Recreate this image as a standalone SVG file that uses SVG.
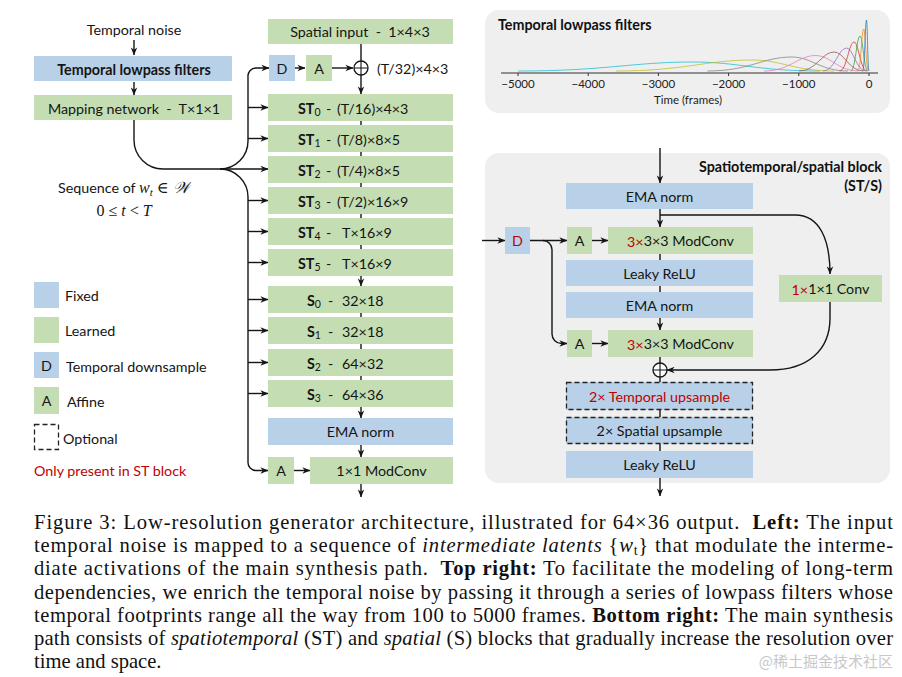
<svg xmlns="http://www.w3.org/2000/svg" width="902" height="677" viewBox="0 0 902 677">
<defs>
<style>
.bl{fill:#b8d1e8}
.gr{fill:#c4ddb2}
.t{font-family:Lato,"Liberation Sans",sans-serif;font-size:14.3px;fill:#151515;white-space:pre}
.c{text-anchor:middle;dominant-baseline:central}
.m{dominant-baseline:central}
.bd{font-weight:bold}
.red{fill:#c00000}
.ln{stroke:#151515;stroke-width:1.4;fill:none}
.ar{marker-end:url(#ah)}
.dash{stroke:#222;stroke-width:1.3;stroke-dasharray:5,3;fill:none}
.cap{font-family:"Liberation Serif","Times New Roman",serif;font-size:20.6px;fill:#111;white-space:pre}
.crv{fill:none;stroke-width:1;opacity:0.75}
</style>
<marker id="ah" viewBox="0 0 10 10" refX="9.5" refY="5" markerWidth="8" markerHeight="8" markerUnits="userSpaceOnUse" orient="auto">
<path d="M0,1 L10,5 L0,9 L3,5 z" fill="#151515"/>
</marker>
</defs>
<rect width="902" height="677" fill="#fff"/>

<!-- panels -->
<rect x="485" y="10" width="405" height="103" rx="14" fill="#efefef"/>
<rect x="485" y="153" width="405" height="330" rx="14" fill="#efefef"/>

<!-- connectors -->
<g id="connectors">
<line class="ln ar" x1="134" y1="40" x2="134" y2="55"/>
<line class="ln ar" x1="134" y1="82" x2="134" y2="95"/>
<path class="ln ar" d="M134,120 V140 A29,29 0 0 0 163,169 H268"/>
<path class="ln ar" d="M220,169 A28,28 0 0 0 248,141 V77 A8,8 0 0 1 256,68 H269"/>
<path class="ln ar" d="M220,169 A28,28 0 0 1 248,197 V462 A8,8 0 0 0 256,470.5 H268"/>
<line class="ln ar" x1="248" y1="107.5" x2="268" y2="107.5"/>
<line class="ln ar" x1="248" y1="138.5" x2="268" y2="138.5"/>
<line class="ln ar" x1="248" y1="200.5" x2="268" y2="200.5"/>
<line class="ln ar" x1="248" y1="231.5" x2="268" y2="231.5"/>
<line class="ln ar" x1="248" y1="262.5" x2="268" y2="262.5"/>
<line class="ln ar" x1="248" y1="299.5" x2="268" y2="299.5"/>
<line class="ln ar" x1="248" y1="330.5" x2="268" y2="330.5"/>
<line class="ln ar" x1="248" y1="362.5" x2="268" y2="362.5"/>
<line class="ln ar" x1="248" y1="393.5" x2="268" y2="393.5"/>
<line class="ln ar" x1="295" y1="68" x2="305" y2="68"/>
<line class="ln ar" x1="332" y1="68" x2="353" y2="68"/>
<line class="ln" x1="361" y1="44" x2="361" y2="61"/>
<line class="ln ar" x1="361" y1="75" x2="361" y2="94"/>
<line class="ln" x1="361" y1="121" x2="361" y2="125"/>
<line class="ln" x1="361" y1="152" x2="361" y2="156"/>
<line class="ln" x1="361" y1="183" x2="361" y2="187"/>
<line class="ln" x1="361" y1="214" x2="361" y2="218"/>
<line class="ln" x1="361" y1="245" x2="361" y2="249"/>
<line class="ln ar" x1="361" y1="276" x2="361" y2="286"/>
<line class="ln" x1="361" y1="313" x2="361" y2="317"/>
<line class="ln" x1="361" y1="344" x2="361" y2="349"/>
<line class="ln" x1="361" y1="376" x2="361" y2="380"/>
<line class="ln ar" x1="361" y1="407" x2="361" y2="418"/>
<line class="ln ar" x1="361" y1="445" x2="361" y2="457"/>
<line class="ln ar" x1="294" y1="470.5" x2="310" y2="470.5"/>
<line class="ln ar" x1="361" y1="484" x2="361" y2="497"/>
<!-- block -->
<line class="ln ar" x1="660" y1="148" x2="660" y2="183"/>
<line class="ln ar" x1="660" y1="209" x2="660" y2="227"/>
<path class="ln ar" d="M660,215 H795 C820,215 830,240 830,274"/>
<line class="ln ar" x1="482" y1="240.5" x2="505" y2="240.5"/>
<line class="ln ar" x1="530" y1="240.5" x2="567" y2="240.5"/>
<path class="ln ar" d="M543,240.5 A9,9 0 0 1 552,249.5 V334 A9.5,9.5 0 0 0 561.5,343.5 H567"/>
<line class="ln ar" x1="592" y1="240.5" x2="608" y2="240.5"/>
<line class="ln" x1="660" y1="254" x2="660" y2="260"/>
<line class="ln" x1="660" y1="286" x2="660" y2="292"/>
<line class="ln ar" x1="660" y1="318" x2="660" y2="330"/>
<line class="ln ar" x1="592" y1="343.5" x2="608" y2="343.5"/>
<line class="ln" x1="660" y1="357" x2="660" y2="363"/>
<line class="ln" x1="660" y1="377" x2="660" y2="382"/>
<path class="ln ar" d="M830,302 V318 C830,350 808,370 770,370 H667"/>
<line class="ln" x1="660" y1="410" x2="660" y2="417"/>
<line class="ln" x1="660" y1="444" x2="660" y2="451"/>
<line class="ln ar" x1="660" y1="478" x2="660" y2="496"/>
</g>

<!-- left column -->
<g id="temporal-noise"><text class="t c" x="134" y="29">Temporal noise</text></g>
<g id="lowpass"><rect class="bl" x="34" y="56" width="198" height="25"/><text class="t c bd" x="134" y="69">Temporal lowpass filters</text></g>
<g id="mapping"><rect class="gr" x="34" y="95" width="198" height="25"/><text class="t c" x="134" y="108">Mapping network  -  T×1×1</text></g>
<g id="sequence">
<text x="58" y="193" style="font-family:Lato,'Liberation Sans',sans-serif;font-size:14.3px;fill:#151515">Sequence of <tspan style="font-family:'Liberation Serif',serif;font-style:italic;font-size:16px">w</tspan><tspan dy="3" style="font-family:'Liberation Serif',serif;font-style:italic;font-size:11px">t</tspan><tspan dy="-3" style="font-family:'Liberation Serif','DejaVu Serif',serif;font-size:16px"> ∈ </tspan><tspan style="font-family:'DejaVu Serif','Noto Sans',serif;font-style:italic;font-size:16px">𝒲</tspan></text>
<text x="124" y="216" text-anchor="middle" style="font-family:'Liberation Serif','DejaVu Serif',serif;font-size:16px;fill:#151515">0 ≤ <tspan font-style="italic">t</tspan> &lt; <tspan font-style="italic">T</tspan></text>
</g>

<!-- legend -->
<g id="legend-fixed"><rect class="bl" x="34" y="282" width="25" height="26"/><text class="t m" x="65" y="295">Fixed</text></g>
<g id="legend-learned"><rect class="gr" x="34" y="317" width="25" height="26"/><text class="t m" x="65" y="330">Learned</text></g>
<g id="legend-d"><rect class="bl" x="34" y="352" width="25" height="26"/><text class="t c" x="46.5" y="365">D</text><text class="t m" x="66" y="366">Temporal downsample</text></g>
<g id="legend-a"><rect class="gr" x="34" y="387" width="25" height="27"/><text class="t c" x="46.5" y="400.5">A</text><text class="t m" x="67" y="401">Affine</text></g>
<g id="legend-opt"><rect class="dash" x="34.5" y="424.5" width="24" height="25"/><text class="t m" x="63" y="438">Optional</text></g>
<text class="t m red" x="34" y="470">Only present in ST block</text>

<!-- middle column -->
<g id="spatial-input"><rect class="gr" x="268" y="19" width="185" height="25"/><text class="t c" x="360" y="31.5">Spatial input  -  1×4×3</text></g>
<g id="top-d"><rect class="bl" x="269" y="55" width="26" height="26"/><text class="t c" x="282" y="68">D</text></g>
<g id="top-a"><rect class="gr" x="306" y="55" width="26" height="26"/><text class="t c" x="319" y="68">A</text></g>
<g id="top-plus"><circle cx="361" cy="68" r="7" fill="#fff" stroke="#151515" stroke-width="1.3"/><path d="M354,68 H368 M361,61 V75" stroke="#151515" stroke-width="1.1"/><text class="t m" x="377" y="68">(T/32)×4×3</text></g>

<g id="st0"><rect class="gr" x="268" y="94" width="185" height="27"/><text class="t m" x="298" y="107.5"><tspan class="bd">ST</tspan><tspan dy="4" font-size="10.5">0</tspan><tspan x="326" dy="-4">-</tspan><tspan x="337">(T/16)×4×3</tspan></text></g>
<g id="st1"><rect class="gr" x="268" y="125" width="185" height="27"/><text class="t m" x="298" y="138.5"><tspan class="bd">ST</tspan><tspan dy="4" font-size="10.5">1</tspan><tspan x="326" dy="-4">-</tspan><tspan x="337">(T/8)×8×5</tspan></text></g>
<g id="st2"><rect class="gr" x="268" y="156" width="185" height="27"/><text class="t m" x="298" y="169.5"><tspan class="bd">ST</tspan><tspan dy="4" font-size="10.5">2</tspan><tspan x="326" dy="-4">-</tspan><tspan x="337">(T/4)×8×5</tspan></text></g>
<g id="st3"><rect class="gr" x="268" y="187" width="185" height="27"/><text class="t m" x="298" y="200.5"><tspan class="bd">ST</tspan><tspan dy="4" font-size="10.5">3</tspan><tspan x="326" dy="-4">-</tspan><tspan x="337">(T/2)×16×9</tspan></text></g>
<g id="st4"><rect class="gr" x="268" y="218" width="185" height="27"/><text class="t m" x="298" y="231.5"><tspan class="bd">ST</tspan><tspan dy="4" font-size="10.5">4</tspan><tspan x="326" dy="-4">-</tspan><tspan x="342">T×16×9</tspan></text></g>
<g id="st5"><rect class="gr" x="268" y="249" width="185" height="27"/><text class="t m" x="298" y="262.5"><tspan class="bd">ST</tspan><tspan dy="4" font-size="10.5">5</tspan><tspan x="326" dy="-4">-</tspan><tspan x="342">T×16×9</tspan></text></g>
<g id="s0"><rect class="gr" x="268" y="286" width="185" height="27"/><text class="t m" x="307" y="299.5"><tspan class="bd">S</tspan><tspan dy="4" font-size="10.5">0</tspan><tspan x="328" dy="-4">-</tspan><tspan x="342">32×18</tspan></text></g>
<g id="s1"><rect class="gr" x="268" y="317" width="185" height="27"/><text class="t m" x="307" y="330.5"><tspan class="bd">S</tspan><tspan dy="4" font-size="10.5">1</tspan><tspan x="328" dy="-4">-</tspan><tspan x="342">32×18</tspan></text></g>
<g id="s2"><rect class="gr" x="268" y="349" width="185" height="27"/><text class="t m" x="307" y="362.5"><tspan class="bd">S</tspan><tspan dy="4" font-size="10.5">2</tspan><tspan x="328" dy="-4">-</tspan><tspan x="342">64×32</tspan></text></g>
<g id="s3"><rect class="gr" x="268" y="380" width="185" height="27"/><text class="t m" x="307" y="393.5"><tspan class="bd">S</tspan><tspan dy="4" font-size="10.5">3</tspan><tspan x="328" dy="-4">-</tspan><tspan x="342">64×36</tspan></text></g>
<g id="ema-main"><rect class="bl" x="268" y="418" width="185" height="27"/><text class="t c" x="360.5" y="431.5">EMA norm</text></g>
<g id="a-main"><rect class="gr" x="268" y="457" width="26" height="27"/><text class="t c" x="281" y="470.5">A</text></g>
<g id="modconv-main"><rect class="gr" x="310" y="457" width="143" height="27"/><text class="t c" x="381.5" y="470.5">1×1 ModConv</text></g>

<!-- top right plot -->
<g id="plot">
<text x="498" y="30" style="font-family:Lato,'Liberation Sans',sans-serif;font-size:14.3px;font-weight:bold;fill:#111">Temporal lowpass filters</text>
<path class="crv" stroke="#17becf" d="M518,71 C605.75,71 632.1,62 693.5,62 C737.8,62 756.75,71 820,71"/>
<path class="crv" stroke="#bcbd22" d="M616,71 C684.5,71 705,60 753,60 C781.4,60 793.5,71 834,71"/>
<path class="crv" stroke="#7f7f7f" d="M707.5,71 C749.75,71 762.4,57 792,57 C811.6,57 820,71 848,71"/>
<path class="crv" stroke="#e377c2" d="M764,71 C790,71 797.8,55.5 816,55.5 C830.9,55.5 837.25,71 858.5,71"/>
<path class="crv" stroke="#8c564b" d="M799,71 C816.5,71 821.75,52 834,52 C844.3,52 848.7,71 863.4,71"/>
<path class="crv" stroke="#9467bd" d="M823,71 C834.75,71 838.3,48 846.5,48 C853.3,48 856.25,71 866,71"/>
<path class="crv" stroke="#d62728" d="M839.5,71 C846.75,71 848.9,42 854,42 C858.55,42 860.5,71 867,71"/>
<path class="crv" stroke="#2ca02c" d="M850.7,71 C855.35,71 856.7,36 860,36 C862.8,36 864,71 868,71"/>
<path class="crv" stroke="#ff7f0e" d="M857.8,71 C860.75,71 861.6,29 863.7,29 C865.4,29 866.15,71 868.6,71"/>
<path class="crv" stroke="#1f77b4" d="M862.7,71 C864.6,71 865.2,20 866.5,20 C867.4,20 867.75,71 869,71"/>
<line x1="501" y1="73" x2="878" y2="73" stroke="#333" stroke-width="1.2"/>
<path d="M518,73 v3 M588.2,73 v3 M658.4,73 v3 M728.6,73 v3 M798.8,73 v3 M869,73 v3" stroke="#333" stroke-width="1"/>
<g style="font-family:Lato,'Liberation Sans',sans-serif;font-size:11.5px;fill:#222" text-anchor="middle">
<text x="518" y="88">−5000</text><text x="588.2" y="88">−4000</text><text x="658.4" y="88">−3000</text><text x="728.6" y="88">−2000</text><text x="798.8" y="88">−1000</text><text x="869" y="88">0</text>
<text x="688" y="104">Time (frames)</text>
</g>
</g>

<!-- block -->
<g id="block-title">
<text x="882" y="172" text-anchor="end" style="font-family:Lato,'Liberation Sans',sans-serif;font-size:14.3px;font-weight:bold;fill:#111">Spatiotemporal/spatial block</text>
<text x="882" y="191" text-anchor="end" style="font-family:Lato,'Liberation Sans',sans-serif;font-size:14.3px;font-weight:bold;fill:#111">(ST/S)</text>
</g>
<g id="b-ema1"><rect class="bl" x="566" y="183" width="187" height="26"/><text class="t c" x="659.5" y="196">EMA norm</text></g>
<g id="b-d"><rect class="bl" x="505" y="227" width="25" height="27"/><text class="t c red" x="517.5" y="240.5">D</text></g>
<g id="b-a1"><rect class="gr" x="567" y="227" width="25" height="27"/><text class="t c" x="579.5" y="240.5">A</text></g>
<g id="b-mod1"><rect class="gr" x="608" y="227" width="145" height="27"/><text class="t c" x="680.5" y="240.5"><tspan class="red">3×</tspan>3×3 ModConv</text></g>
<g id="b-relu1"><rect class="bl" x="566" y="260" width="187" height="26"/><text class="t c" x="659.5" y="273">Leaky ReLU</text></g>
<g id="b-ema2"><rect class="bl" x="566" y="292" width="187" height="26"/><text class="t c" x="659.5" y="305">EMA norm</text></g>
<g id="b-a2"><rect class="gr" x="567" y="330" width="25" height="27"/><text class="t c" x="579.5" y="343.5">A</text></g>
<g id="b-mod2"><rect class="gr" x="608" y="330" width="145" height="27"/><text class="t c" x="680.5" y="343.5"><tspan class="red">3×</tspan>3×3 ModConv</text></g>
<g id="b-conv"><rect class="gr" x="779" y="275" width="103" height="27"/><text class="t c" x="830.5" y="288.5"><tspan class="red">1×</tspan>1×1 Conv</text></g>
<g id="b-plus"><circle cx="660" cy="370" r="7" fill="#fff" stroke="#151515" stroke-width="1.3"/><path d="M653,370 H667 M660,363 V377" stroke="#151515" stroke-width="1.1"/></g>
<g id="b-tup"><rect class="bl" x="566" y="382" width="187" height="28"/><rect class="dash" x="566.5" y="382.5" width="186" height="27"/><text class="t c red" x="659.5" y="396">2× Temporal upsample</text></g>
<g id="b-sup"><rect class="bl" x="566" y="417" width="187" height="27"/><rect class="dash" x="566.5" y="417.5" width="186" height="26"/><text class="t c" x="659.5" y="430.5">2× Spatial upsample</text></g>
<g id="b-relu2"><rect class="bl" x="566" y="451" width="187" height="27"/><text class="t c" x="659.5" y="464.5">Leaky ReLU</text></g>

<!-- caption -->
<g id="caption">
<text class="cap" x="34" y="529" textLength="859" lengthAdjust="spacing">Figure 3: Low-resolution generator architecture, illustrated for 64×36 output.  <tspan font-weight="bold">Left:</tspan> The input</text>
<text class="cap" x="34" y="552" textLength="859" lengthAdjust="spacing">temporal noise is mapped to a sequence of <tspan font-style="italic">intermediate latents</tspan> {<tspan font-style="italic">w</tspan><tspan font-size="14" dy="3">t</tspan><tspan dy="-3">}</tspan> that modulate the interme-</text>
<text class="cap" x="34" y="575" textLength="859" lengthAdjust="spacing">diate activations of the main synthesis path.  <tspan font-weight="bold">Top right:</tspan> To facilitate the modeling of long-term</text>
<text class="cap" x="34" y="599" textLength="859" lengthAdjust="spacing">dependencies, we enrich the temporal noise by passing it through a series of lowpass filters whose</text>
<text class="cap" x="34" y="622" textLength="859" lengthAdjust="spacing">temporal footprints range all the way from 100 to 5000 frames. <tspan font-weight="bold">Bottom right:</tspan> The main synthesis</text>
<text class="cap" x="34" y="645" textLength="859" lengthAdjust="spacing">path consists of <tspan font-style="italic">spatiotemporal</tspan> (ST) and <tspan font-style="italic">spatial</tspan> (S) blocks that gradually increase the resolution over</text>
<text class="cap" x="34" y="668">time and space.</text>
<text x="893" y="667" text-anchor="end" style="font-family:'Noto Sans CJK SC','Liberation Sans',sans-serif;font-size:15px;fill:#c8c8c8">@稀土掘金技术社区</text>
</g>
</svg>
